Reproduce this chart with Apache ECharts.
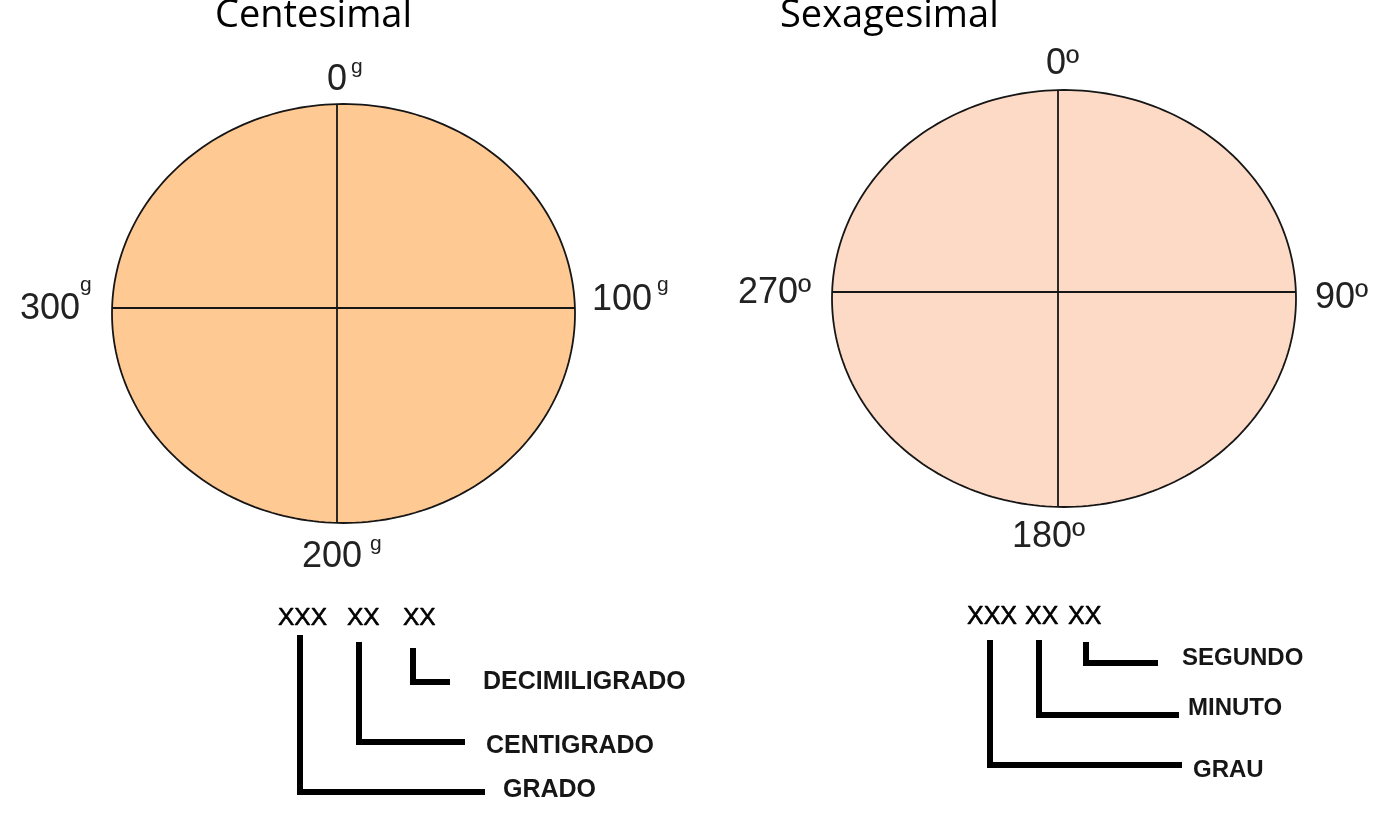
<!DOCTYPE html>
<html>
<head>
<meta charset="utf-8">
<script src="https://cdn.jsdelivr.net/npm/echarts@6/dist/echarts.min.js"></script>
<style>
html,body{margin:0;padding:0;background:#ffffff;}
#chart{width:1394px;height:825px;}
</style>
</head>
<body>
<div id="chart"></div>
<script>
// ---- data ----
const systemNames = ['Centesimal', 'Sexagesimal'];
const centesimalMarks = [0, 100, 200, 300];
const sexagesimalMarks = [0, 90, 180, 270];
const unitSymbols = ['g', 'º'];
const notationGroups = ['XXX', 'XX', 'XX'];
const centesimalParts = ['GRADO', 'CENTIGRADO', 'DECIMILIGRADO'];
const sexagesimalParts = ['GRAU', 'MINUTO', 'SEGUNDO'];

// ---- layout (diagram units = pixels of the 1394x825 canvas) ----
const dialLayout = [
  { cx: 343.5, cy: 313.5, rx: 231.5, ry: 209.5, crossX: 337, crossY: 308, fill: '#FFC994', titleX: 215, titleY: -3 },
  { cx: 1064, cy: 298.5, rx: 232, ry: 208.5, crossX: 1058, crossY: 292, fill: '#FDDAC6', titleX: 780, titleY: -3 }
];
const markLayout = [
  [ { x: 327, y: 80, supX: 351, supY: 67 }, { x: 592, y: 300, supX: 657, supY: 285 },
    { x: 302, y: 557, supX: 370, supY: 544 }, { x: 20, y: 309, supX: 80, supY: 285 } ],
  [ { x: 1046, y: 64 }, { x: 1315, y: 298 }, { x: 1012, y: 537 }, { x: 738, y: 293 } ]
];
const bracketLayout = [
  { groupX: [278, 347, 403], groupY: 618, groupFont: 24.5,
    stemX: [300, 359, 413], stemTop: [635, 642, 648], elbowY: [792, 742, 682], endX: [485, 465, 450],
    labelX: [503, 486, 483], labelY: [790, 746, 682], labelFont: 25 },
  { groupX: [967, 1025, 1068], groupY: 617, groupFont: 25,
    stemX: [990, 1039, 1086], stemTop: [640, 640, 642], elbowY: [765, 715, 663], endX: [1182, 1179, 1158],
    labelX: [1193, 1188, 1182], labelY: [770, 708, 658], labelFont: 24 }
];
const INK = '#161616';
const SANS = '"Liberation Sans", Arial, sans-serif';

const markSets = [centesimalMarks, sexagesimalMarks];
const partSets = [centesimalParts, sexagesimalParts];

const chart = echarts.init(document.getElementById('chart'), null, { renderer: 'canvas' });

function dialItem(params, api) {
  const i = api.value(0);
  const L = dialLayout[i];
  const c = api.coord([L.cx, L.cy]);
  const r = api.size([L.rx, L.ry]);
  const pts = [];
  const N = 240;
  for (let k = 0; k < N; k++) {
    const t = (k / N) * Math.PI * 2;
    pts.push([c[0] + r[0] * Math.cos(t), c[1] + r[1] * Math.sin(t)]);
  }
  const px = api.coord([L.crossX, L.crossY]);
  const dx = (px[0] - c[0]) / r[0];
  const dy = (px[1] - c[1]) / r[1];
  const halfV = r[1] * Math.sqrt(Math.max(0, 1 - dx * dx));
  const halfH = r[0] * Math.sqrt(Math.max(0, 1 - dy * dy));
  const t = api.coord([L.titleX, L.titleY]);
  return {
    type: 'group',
    children: [
      { type: 'polygon', shape: { points: pts }, style: { fill: L.fill, stroke: INK, lineWidth: 1.8 } },
      { type: 'line', shape: { x1: px[0], y1: c[1] - halfV, x2: px[0], y2: c[1] + halfV }, style: { stroke: INK, lineWidth: 1.8 } },
      { type: 'line', shape: { x1: c[0] - halfH, y1: px[1], x2: c[0] + halfH, y2: px[1] }, style: { stroke: INK, lineWidth: 1.8 } },
      { type: 'text', x: t[0], y: t[1], style: { text: systemNames[i], fill: '#000', font: '38px "Open Sans", sans-serif', align: 'left', verticalAlign: 'top' } }
    ]
  };
}

function markItem(params, api) {
  const s = api.value(0);
  const k = api.value(1);
  const L = markLayout[s][k];
  const p = api.coord([L.x, L.y]);
  const val = markSets[s][k];
  const children = [];
  if (s === 0) {
    children.push({ type: 'text', x: p[0], y: p[1], style: { text: String(val), fill: '#222', font: '36px ' + SANS, align: 'left', verticalAlign: 'middle' } });
    const q = api.coord([L.supX, L.supY]);
    children.push({ type: 'text', x: q[0], y: q[1], style: { text: unitSymbols[0], fill: '#222', font: '21px ' + SANS, align: 'left', verticalAlign: 'middle' } });
  } else {
    children.push({ type: 'text', x: p[0], y: p[1], style: { text: String(val) + unitSymbols[1], fill: '#222', font: '36px ' + SANS, align: 'left', verticalAlign: 'middle' } });
  }
  return { type: 'group', children: children };
}

function notationItem(params, api) {
  const s = api.value(0);
  const k = api.value(1);
  const B = bracketLayout[s];
  const g = api.coord([B.groupX[k], B.groupY]);
  const top = api.coord([B.stemX[k], B.stemTop[k]]);
  const elbow = api.coord([B.stemX[k], B.elbowY[k]]);
  const end = api.coord([B.endX[k], B.elbowY[k]]);
  const lab = api.coord([B.labelX[k], B.labelY[k]]);
  return {
    type: 'group',
    children: [
      { type: 'text', x: g[0], y: g[1], style: { text: notationGroups[k], fill: '#000', font: B.groupFont + 'px ' + SANS, align: 'left', verticalAlign: 'middle', stroke: '#000', lineWidth: 0.6 } },
      { type: 'polyline', shape: { points: [top, elbow, end] }, style: { stroke: '#000', lineWidth: 6, fill: null, lineJoin: 'miter', lineCap: 'butt' } },
      { type: 'text', x: lab[0], y: lab[1], style: { text: partSets[s][k], fill: INK, font: 'bold ' + B.labelFont + 'px ' + SANS, align: 'left', verticalAlign: 'middle' } }
    ]
  };
}

const dialData = systemNames.map((n, i) => [i]);
const markData = [];
markSets.forEach((set, s) => set.forEach((v, k) => markData.push([s, k])));
const notationData = [];
partSets.forEach((set, s) => set.forEach((v, k) => notationData.push([s, k])));

chart.setOption({
  animation: false,
  backgroundColor: '#ffffff',
  grid: { left: 0, right: 0, top: 0, bottom: 0 },
  xAxis: { type: 'value', min: 0, max: 1394, show: false },
  yAxis: { type: 'value', min: 0, max: 825, inverse: true, show: false },
  tooltip: { show: false },
  series: [
    { type: 'custom', name: 'dials', renderItem: dialItem, data: dialData, silent: true, encode: { x: -1, y: -1 } },
    { type: 'custom', name: 'marks', renderItem: markItem, data: markData, silent: true, encode: { x: -1, y: -1 } },
    { type: 'custom', name: 'notation', renderItem: notationItem, data: notationData, silent: true, encode: { x: -1, y: -1 } }
  ]
});
</script>
</body>
</html>
